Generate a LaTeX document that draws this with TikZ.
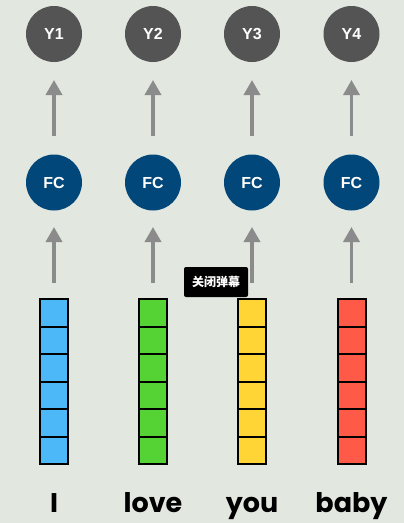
\documentclass[tikz,border=0pt]{standalone}
\usepackage{fontspec}
\setmainfont{Liberation Sans}
\newfontfamily\wordfont{Poppins}
\newfontfamily\cjk{Noto Sans CJK SC}
\usetikzlibrary{arrows.meta}
\definecolor{bgc}{HTML}{E2E7E0}
\definecolor{ycol}{HTML}{545454}
\definecolor{fccol}{HTML}{02477A}
\definecolor{arrcol}{HTML}{8B8B8B}
\definecolor{cblue}{HTML}{4DB8F7}
\definecolor{cgreen}{HTML}{55D334}
\definecolor{cyellow}{HTML}{FFD535}
\definecolor{cred}{HTML}{FF5A47}
\tikzset{
  ycirc/.style={circle, fill=ycol, minimum size=56pt, inner sep=0pt, text=white, font=\fontsize{16}{18}\selectfont\bfseries},
  fccirc/.style={circle, fill=fccol, minimum size=56pt, inner sep=0pt, text=white, font=\fontsize{16}{18}\selectfont\bfseries},
  uparrow/.style={draw=arrcol, line width=3.5pt, -{Triangle[width=16pt,length=15pt]}},
  cell/.style={draw=black, line width=2pt, minimum width=28pt, minimum height=27.5pt, inner sep=0pt},
  word/.style={font=\wordfont\fontsize{27}{30}\selectfont\bfseries, anchor=base},
  tip/.style={fill=black, rounded corners=2pt, text=white, minimum width=64pt, minimum height=30pt, inner sep=0pt, font=\cjk\fontsize{12}{14}\selectfont\bfseries}
}
\begin{document}
\begin{tikzpicture}[x=1pt,y=-1pt]
\fill[bgc] (0,0) rectangle (404,523);
\useasboundingbox (0,0) rectangle (404,523);
\foreach \i/\x/\col/\w in {1/54/cblue/I, 2/153/cgreen/love, 3/252/cyellow/you, 4/351.5/cred/baby}{
  \node[ycirc] (y\i) at (\x,34) {Y\i};
  \node[fccirc] (fc\i) at (\x,182.5) {FC};
  \foreach \k in {1,...,6}{
    \node[cell, fill=\col] (c\i\k) at (\x,{299+27.5*(\k-0.5)}) {};
  }
  \coordinate (a\i) at (\x,283);
  \coordinate (b\i) at (\x,136);
  \draw[uparrow] (a\i) -- (fc\i.south |- 0,227);
  \draw[uparrow] (b\i) -- (y\i.south |- 0,80);
  \node[word] (w\i) at (\x,512) {\w};
}
\node[tip] (tooltip) at (216,282) {关闭弹幕};
\end{tikzpicture}
\end{document}
